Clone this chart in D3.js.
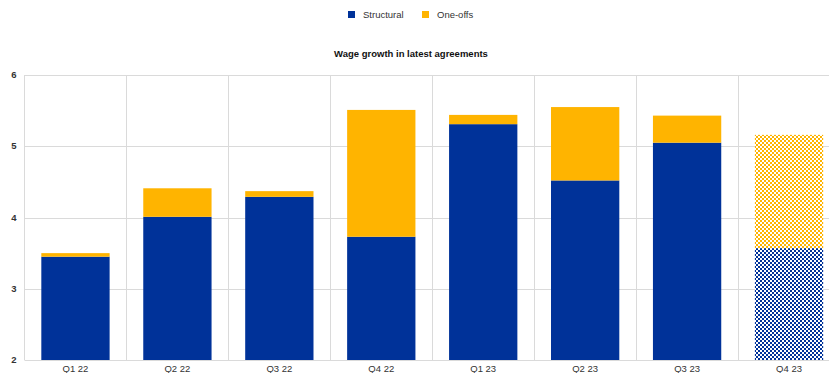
<!DOCTYPE html>
<html>
<head>
<meta charset="utf-8">
<script src="https://cdn.jsdelivr.net/npm/d3@7"></script>
<style>
  body { margin: 0; background: #fff; }
  svg { font-family: "Liberation Sans", Arial, sans-serif; }
</style>
</head>
<body>
<svg width="829" height="373"></svg>
<script>
  // chart data
  var quarters = ["Q1 22", "Q2 22", "Q3 22", "Q4 22", "Q1 23", "Q2 23", "Q3 23", "Q4 23"];
  var structural = [3.45, 4.01, 4.29, 3.73, 5.31, 4.52, 5.05, 3.57];
  var oneOffs = [0.05, 0.40, 0.08, 1.78, 0.13, 1.03, 0.38, 1.59];
  var projected = [false, false, false, false, false, false, false, true];
  var yTicks = [2, 3, 4, 5, 6];

  var svg = d3.select("svg");
  var blue = "#003299";
  var yellow = "#ffb400";

  var margin = { top: 75, left: 24.5, right: 840, bottom: 360 };

  var xScale = d3.scaleBand()
    .domain(quarters)
    .range([margin.left, margin.right])
    .paddingInner(0.33)
    .paddingOuter(0.165);

  var yScale = d3.scaleLinear()
    .domain([2, 6])
    .range([margin.bottom, margin.top]);

  // checker patterns for the estimated quarter
  var defs = svg.append("defs");
  [["chkBlue", blue], ["chkYellow", yellow]].forEach(function (p) {
    var pat = defs.append("pattern")
      .attr("id", p[0])
      .attr("width", 4).attr("height", 4)
      .attr("patternUnits", "userSpaceOnUse");
    pat.append("rect").attr("width", 4).attr("height", 4).attr("fill", "#fff");
    pat.append("rect").attr("width", 2).attr("height", 2).attr("fill", p[1]);
    pat.append("rect").attr("x", 2).attr("y", 2).attr("width", 2).attr("height", 2).attr("fill", p[1]);
  });

  // grid
  var grid = svg.append("g").attr("stroke", "#dadada").attr("stroke-width", 1);
  grid.selectAll("line.h")
    .data(yTicks)
    .enter().append("line")
    .attr("x1", margin.left).attr("x2", margin.right)
    .attr("y1", function (d) { return Math.round(yScale(d)) + 0.5; })
    .attr("y2", function (d) { return Math.round(yScale(d)) + 0.5; });
  var step = xScale.step();
  var bounds = quarters.map(function (q) { return xScale(q) - xScale.paddingInner() * step / 2; });
  bounds.push(margin.right);
  grid.selectAll("line.v")
    .data(bounds)
    .enter().append("line")
    .attr("x1", function (d) { return Math.round(d) + 0.5; })
    .attr("x2", function (d) { return Math.round(d) + 0.5; })
    .attr("y1", margin.top).attr("y2", margin.bottom);

  // y axis labels
  svg.append("g").selectAll("text")
    .data(yTicks)
    .enter().append("text")
    .attr("x", 14)
    .attr("y", function (d) { return yScale(d) + 3; })
    .attr("text-anchor", "middle")
    .attr("font-size", 9.5)
    .attr("font-weight", "bold")
    .attr("fill", "#333")
    .text(function (d) { return d; });

  // bars
  var bars = svg.append("g");
  bars.selectAll("rect.structural")
    .data(quarters)
    .enter().append("rect")
    .attr("x", function (d) { return xScale(d); })
    .attr("width", xScale.bandwidth())
    .attr("y", function (d, i) { return yScale(structural[i]); })
    .attr("height", function (d, i) { return yScale(2) - yScale(structural[i]); })
    .attr("fill", function (d, i) { return projected[i] ? "url(#chkBlue)" : blue; });
  bars.selectAll("rect.oneoffs")
    .data(quarters)
    .enter().append("rect")
    .attr("x", function (d) { return xScale(d); })
    .attr("width", xScale.bandwidth())
    .attr("y", function (d, i) { return yScale(structural[i] + oneOffs[i]); })
    .attr("height", function (d, i) { return yScale(structural[i]) - yScale(structural[i] + oneOffs[i]); })
    .attr("fill", function (d, i) { return projected[i] ? "url(#chkYellow)" : yellow; });

  // x labels
  svg.append("g").selectAll("text")
    .data(quarters)
    .enter().append("text")
    .attr("x", function (d) { return xScale(d) + xScale.bandwidth() / 2; })
    .attr("y", 372)
    .attr("text-anchor", "middle")
    .attr("font-size", 9.5)
    .attr("fill", "#333")
    .text(function (d) { return d; });

  // title
  svg.append("text")
    .attr("x", 411).attr("y", 57)
    .attr("text-anchor", "middle")
    .attr("font-size", 9.5)
    .attr("font-weight", "bold")
    .attr("fill", "#111")
    .text("Wage growth in latest  agreements");

  // legend
  var legend = [["Structural", blue, 348], ["One-offs", yellow, 422]];
  legend.forEach(function (l) {
    svg.append("rect")
      .attr("x", l[2]).attr("y", 11).attr("width", 7).attr("height", 7)
      .attr("fill", l[1]);
    svg.append("text")
      .attr("x", l[2] + 15).attr("y", 18)
      .attr("font-size", 9.5)
      .attr("fill", "#333")
      .text(l[0]);
  });
</script>
</body>
</html>
